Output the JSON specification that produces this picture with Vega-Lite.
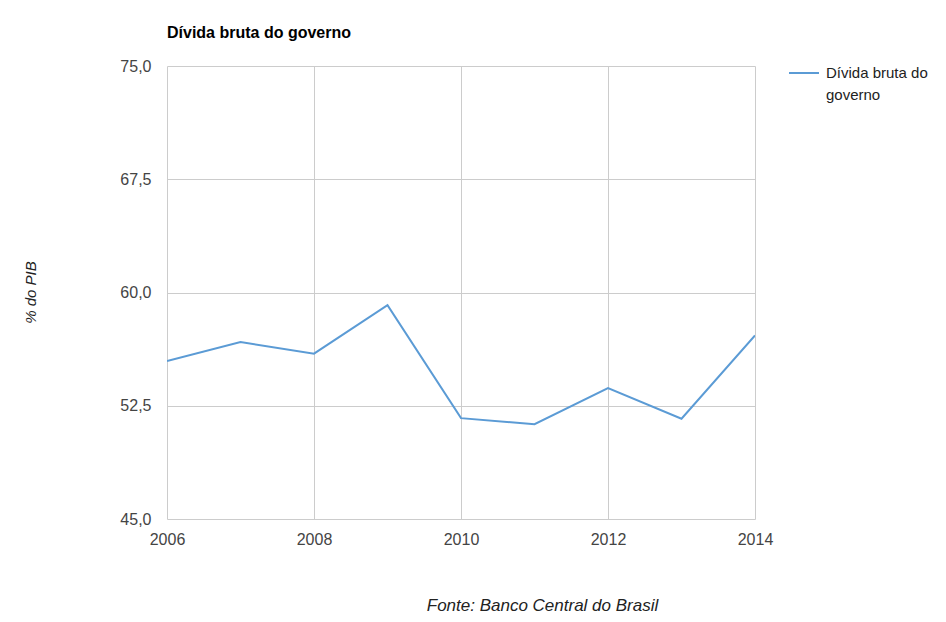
{
  "$schema": "https://vega.github.io/schema/vega-lite/v6.json",
  "width": 588,
  "height": 453,
  "autosize": {"type": "none"},
  "padding": {"left": 167, "top": 66, "right": 191, "bottom": 103},
  "background": "white",
  "config": {
    "font": "Liberation Sans",
    "view": {"stroke": null},
    "style": {"guide-label": {"lineHeight": 22}}
  },
  "title": {
    "text": "Dívida bruta do governo",
    "anchor": "start",
    "frame": "group",
    "fontSize": 16,
    "fontWeight": "bold",
    "color": "#000000",
    "font": "Liberation Sans",
    "baseline": "middle",
    "offset": 8
  },
  "data": {
    "values": [
      {"ano": 2006, "valor": 55.46, "serie": "Dívida bruta do governo"},
      {"ano": 2007, "valor": 56.72, "serie": "Dívida bruta do governo"},
      {"ano": 2008, "valor": 55.95, "serie": "Dívida bruta do governo"},
      {"ano": 2009, "valor": 59.16, "serie": "Dívida bruta do governo"},
      {"ano": 2010, "valor": 51.68, "serie": "Dívida bruta do governo"},
      {"ano": 2011, "valor": 51.28, "serie": "Dívida bruta do governo"},
      {"ano": 2012, "valor": 53.67, "serie": "Dívida bruta do governo"},
      {"ano": 2013, "valor": 51.64, "serie": "Dívida bruta do governo"},
      {"ano": 2014, "valor": 57.15, "serie": "Dívida bruta do governo"}
    ]
  },
  "mark": {"type": "line", "strokeWidth": 2, "clip": true},
  "encoding": {
    "x": {
      "field": "ano",
      "type": "quantitative",
      "scale": {"domain": [2006, 2014], "nice": false, "zero": false},
      "axis": {
        "values": [2006, 2008, 2010, 2012, 2014],
        "format": "d",
        "grid": true,
        "gridColor": "#cccccc",
        "gridOpacity": 1,
        "domain": false,
        "ticks": false,
        "labelFontSize": 16,
        "labelColor": "#444444",
        "labelPadding": 12,
        "labelFlush": false,
        "title": "Fonte: Banco Central do Brasil",
        "titleFontSize": 17,
        "titleFontStyle": "italic",
        "titleFontWeight": "normal",
        "titleColor": "#222222",
        "titleX": 375,
        "titleY": 86,
        "titleAlign": "center",
        "titleBaseline": "middle"
      }
    },
    "y": {
      "field": "valor",
      "type": "quantitative",
      "scale": {"domain": [45, 75], "nice": false, "zero": false},
      "axis": {
        "values": [45, 52.5, 60, 67.5, 75],
        "labelExpr": "replace(format(datum.value, '.1f'), '.', ',')",
        "grid": true,
        "gridColor": "#cccccc",
        "gridOpacity": 1,
        "domain": false,
        "ticks": false,
        "labelFontSize": 16,
        "labelColor": "#444444",
        "labelPadding": 16,
        "labelFlush": false,
        "title": "% do PIB",
        "titleFontSize": 15,
        "titleFontStyle": "italic",
        "titleFontWeight": "normal",
        "titleColor": "#222222",
        "titleX": -137,
        "titleY": 226,
        "titleAlign": "center",
        "titleBaseline": "middle",
        "titleAngle": -90
      }
    },
    "color": {
      "field": "serie",
      "type": "nominal",
      "scale": {"range": ["#5b9bd5"]},
      "legend": {
        "title": null,
        "orient": "none",
        "legendX": 621,
        "legendY": -9,
        "symbolType": "stroke",
        "symbolSize": 900,
        "symbolStrokeWidth": 2,
        "labelFontSize": 15,
        "labelColor": "#222222",
        "labelOffset": 6,
        "labelLimit": 200,
        "labelBaseline": "middle",
        "labelExpr": "['Dívida bruta do', 'governo']"
      }
    }
  }
}
